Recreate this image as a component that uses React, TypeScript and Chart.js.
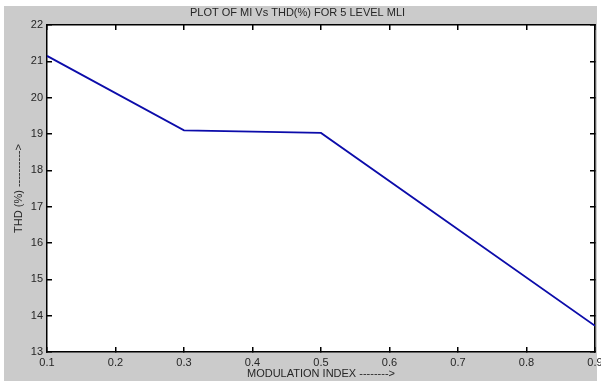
import React, { useEffect, useRef } from "react";
import { Chart, registerables } from "chart.js";

Chart.register(...registerables);

// Modulation index vs. total harmonic distortion
const modulationIndex = [0.1, 0.3, 0.5, 0.9];
const thdPercent = [21.15, 19.1, 19.03, 13.72];

const xMin = 0.1;
const xMax = 0.9;
const xStep = 0.1;
const yMin = 13;
const yMax = 22;
const yStep = 1;

const FONT = "'Liberation Sans', Arial, sans-serif";
const TEXT = "#262626";
const FIGURE_BG = "#cbcbcb";
const FRAME = "#000000";
const TICK_IN = -5; // negative length turns the tick marks into the axes box

// Figure background and the white axes box
const axesBackground = {
  id: "axesBackground",
  beforeDraw(chart: any) {
    const { ctx, chartArea: a, width, height } = chart;
    ctx.save();
    ctx.fillStyle = "#ffffff";
    ctx.fillRect(0, 0, width, height);
    ctx.fillStyle = FIGURE_BG;
    ctx.fillRect(4, 6, 593, height - 6);
    ctx.fillStyle = "#ffffff";
    ctx.fillRect(a.left, a.top, a.right - a.left, a.bottom - a.top);
    ctx.restore();
  },
};

const frameGrid = {
  display: true,
  drawOnChartArea: false,
  drawTicks: true,
  tickLength: TICK_IN,
  color: FRAME,
  lineWidth: 1.5,
};
const frameBorder = { display: true, color: FRAME, width: 1.5 };

export default function App() {
  const canvasRef = useRef<HTMLCanvasElement | null>(null);

  useEffect(() => {
    const canvas = canvasRef.current;
    if (!canvas) return;
    const chart = new Chart(canvas, {
      type: "line",
      data: {
        datasets: [
          {
            data: modulationIndex.map((x, i) => ({ x, y: thdPercent[i] })),
            xAxisID: "x",
            yAxisID: "y",
            borderColor: "#0c0caa",
            borderWidth: 1.8,
            pointRadius: 0,
            tension: 0,
            fill: false,
          },
        ],
      },
      options: {
        responsive: false,
        animation: false,
        events: [],
        layout: { padding: { left: 0, right: 6, top: 0, bottom: 0 } },
        plugins: {
          legend: { display: false },
          tooltip: { enabled: false },
          title: {
            display: true,
            text: "PLOT OF MI Vs THD(%) FOR 5 LEVEL MLI",
            color: TEXT,
            font: { family: FONT, size: 11, weight: "normal" },
            padding: { top: 6.4, bottom: 5.4 },
          },
        },
        scales: {
          x: {
            type: "linear",
            position: "bottom",
            min: xMin,
            max: xMax,
            border: frameBorder,
            grid: frameGrid,
            ticks: {
              stepSize: xStep,
              padding: 4 - TICK_IN,
              color: TEXT,
              font: { family: FONT, size: 11 },
              callback: (v: any) => Number(v).toFixed(1),
            },
            title: {
              display: true,
              text: "MODULATION INDEX -------->",
              color: TEXT,
              font: { family: FONT, size: 11 },
              padding: { top: 0, bottom: 0 },
            },
            afterFit: (s: any) => {
              s.height = 29;
              s.paddingLeft = 0;
              s.paddingRight = 0;
            },
          },
          xTop: {
            type: "linear",
            position: "top",
            min: xMin,
            max: xMax,
            border: frameBorder,
            grid: frameGrid,
            ticks: { stepSize: xStep, display: false },
            afterFit: (s: any) => {
              s.height = 0;
              s.paddingLeft = 0;
              s.paddingRight = 0;
            },
          },
          y: {
            type: "linear",
            position: "left",
            min: yMin,
            max: yMax,
            border: frameBorder,
            grid: frameGrid,
            ticks: {
              stepSize: yStep,
              padding: 4 - TICK_IN,
              color: TEXT,
              font: { family: FONT, size: 11 },
            },
            title: {
              display: true,
              text: "THD (%) ---------->",
              color: TEXT,
              font: { family: FONT, size: 11 },
              padding: { top: 12.4, bottom: 0 },
            },
            afterFit: (s: any) => {
              s.width = 47;
              s.paddingTop = 0;
              s.paddingBottom = 0;
            },
          },
          yRight: {
            type: "linear",
            position: "right",
            min: yMin,
            max: yMax,
            border: frameBorder,
            grid: frameGrid,
            ticks: { stepSize: yStep, display: false },
            afterFit: (s: any) => {
              s.width = 0;
              s.paddingTop = 0;
              s.paddingBottom = 0;
            },
          },
        },
      },
      plugins: [axesBackground],
    });
    return () => chart.destroy();
  }, []);

  return (
    <div style={{ position: "fixed", left: 0, top: 0, width: 601, height: 381 }}>
      <canvas ref={canvasRef} width={601} height={381} />
    </div>
  );
}
